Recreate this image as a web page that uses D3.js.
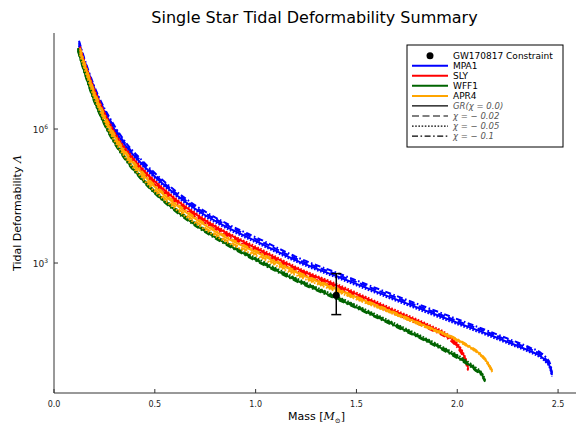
<!DOCTYPE html>
<head>
  <meta charset="utf-8">
  <script src="https://d3js.org/d3.v7.min.js"></script>
  <style>
    body { margin: 0; background: #fff; }
    text { font-family: "DejaVu Sans", sans-serif; }
  </style>
</head>
<body>
<svg width="576" height="426"></svg>
<script>
// masses (solar masses) and tidal deformability per EOS, one array per chi value
var mpa1Mass = [0.124, 0.144, 0.169, 0.198, 0.228, 0.278, 0.327, 0.377, 0.427, 0.476, 0.600, 0.724, 0.848, 1.022, 1.220, 1.399, 1.667, 1.964, 2.163, 2.262, 2.361, 2.411, 2.440, 2.460, 2.470];
var mpa1Gr   = [7.9e7, 3.9e7, 1.79e7, 7.9e6, 3.8e6, 1.44e6, 6.3e5, 3.2e5, 1.82e5, 1.09e5, 3.5e4, 1.39e4, 6.7e3, 2.8e3, 1.05e3, 512, 173, 53, 24.4, 16.2, 10.7, 8.3, 6.4, 4.7, 3.1];
var mpa1C002 = [8.7e7, 4.3e7, 1.97e7, 8.7e6, 4.2e6, 1.58e6, 6.9e5, 3.5e5, 2.0e5, 1.2e5, 3.85e4, 1.53e4, 7.4e3, 3.1e3, 1.15e3, 563, 190, 58, 26.8, 17.8, 11.8, 9.1, 7.0, 5.2, 3.4];
var mpa1C005 = [7.3e7, 3.6e7, 1.66e7, 7.3e6, 3.5e6, 1.34e6, 5.9e5, 3.0e5, 1.69e5, 1.01e5, 3.3e4, 1.29e4, 6.2e3, 2.6e3, 980, 476, 161, 49, 22.7, 15.1, 10.0, 7.7, 6.0, 4.4, 2.9];
var mpa1C01  = [9.5e7, 4.7e7, 2.15e7, 9.5e6, 4.6e6, 1.73e6, 7.6e5, 3.8e5, 2.2e5, 1.31e5, 4.2e4, 1.67e4, 8.0e3, 3.4e3, 1.26e3, 614, 208, 64, 29, 19.4, 12.8, 10, 7.7, 5.6, 3.7];

var slyMass = [0.129, 0.149, 0.174, 0.203, 0.233, 0.278, 0.327, 0.377, 0.427, 0.476, 0.600, 0.724, 0.848, 1.022, 1.220, 1.399, 1.667, 1.880, 1.940, 1.989, 2.024, 2.044, 2.054];
var slyGr   = [6.5e7, 3.3e7, 1.54e7, 6.7e6, 3.3e6, 1.23e6, 5.1e5, 2.6e5, 1.41e5, 8.4e4, 2.7e4, 1.07e4, 4.9e3, 1.95e3, 697, 321, 93, 35, 25.8, 17, 10.2, 6.4, 4.5];
var slyC002 = [6.0e7, 3.1e7, 1.43e7, 6.2e6, 3.1e6, 1.14e6, 4.7e5, 2.4e5, 1.31e5, 7.8e4, 2.5e4, 1.0e4, 4.6e3, 1.81e3, 648, 299, 86, 32.5, 24, 15.8, 9.5, 6.0, 4.2];
var slyC005 = [7.0e7, 3.5e7, 1.65e7, 7.2e6, 3.5e6, 1.32e6, 5.5e5, 2.8e5, 1.51e5, 9.0e4, 2.9e4, 1.14e4, 5.2e3, 2.1e3, 746, 343, 100, 37.5, 27.6, 18.2, 10.9, 6.8, 4.8];
var slyC01  = [5.7e7, 2.9e7, 1.34e7, 5.8e6, 2.9e6, 1.07e6, 4.4e5, 2.3e5, 1.23e5, 7.3e4, 2.35e4, 9.3e3, 4.3e3, 1.7e3, 606, 279, 81, 30.5, 22.4, 14.8, 8.9, 5.6, 3.9];

var wff1Mass = [0.119, 0.139, 0.164, 0.193, 0.223, 0.268, 0.317, 0.377, 0.427, 0.476, 0.600, 0.724, 0.848, 1.022, 1.220, 1.399, 1.667, 1.880, 1.964, 2.039, 2.088, 2.123, 2.138];
var wff1Gr   = [5.9e7, 2.85e7, 1.25e7, 5.2e6, 2.4e6, 9.0e5, 3.75e5, 1.56e5, 8.4e4, 4.8e4, 1.54e4, 6.1e3, 2.8e3, 1.05e3, 376, 165, 45, 15.4, 9.7, 6.1, 4.2, 3.1, 2.3];
var wff1C002 = [6.25e7, 3.0e7, 1.32e7, 5.5e6, 2.55e6, 9.5e5, 3.97e5, 1.65e5, 8.9e4, 5.1e4, 1.63e4, 6.5e3, 2.97e3, 1.11e3, 399, 175, 47.7, 16.3, 10.3, 6.5, 4.45, 3.3, 2.4];
var wff1C005 = [6.5e7, 3.16e7, 1.39e7, 5.8e6, 2.66e6, 1.0e6, 4.16e5, 1.73e5, 9.3e4, 5.3e4, 1.71e4, 6.8e3, 3.1e3, 1.17e3, 417, 183, 50, 17.1, 10.8, 6.8, 4.7, 3.4, 2.5];
var wff1C01  = [5.6e7, 2.7e7, 1.19e7, 4.9e6, 2.3e6, 8.6e5, 3.6e5, 1.48e5, 8.0e4, 4.6e4, 1.46e4, 5.8e3, 2.66e3, 1.0e3, 357, 157, 43, 14.7, 9.2, 5.8, 4.0, 2.9, 2.2];

var apr4Mass = [0.129, 0.149, 0.174, 0.203, 0.233, 0.278, 0.327, 0.377, 0.427, 0.476, 0.600, 0.724, 0.848, 1.022, 1.220, 1.399, 1.667, 1.880, 1.964, 2.063, 2.113, 2.148, 2.173];
var apr4Gr   = [5.9e7, 3.0e7, 1.38e7, 5.8e6, 2.8e6, 1.05e6, 4.4e5, 2.13e5, 1.15e5, 6.5e4, 2.1e4, 8.3e3, 3.8e3, 1.59e3, 568, 262, 84, 33, 23, 13.2, 9.2, 6.1, 3.8];
var apr4C002 = [5.2e7, 2.64e7, 1.21e7, 5.1e6, 2.46e6, 9.2e5, 3.9e5, 1.87e5, 1.01e5, 5.7e4, 1.85e4, 7.3e3, 3.35e3, 1.42e3, 515, 242, 79, 31.5, 22, 12.8, 8.9, 5.9, 3.7];
var apr4C005 = [4.6e7, 2.34e7, 1.08e7, 4.5e6, 2.2e6, 8.2e5, 3.45e5, 1.67e5, 9.0e4, 5.1e4, 1.66e4, 6.6e3, 3.05e3, 1.32e3, 485, 232, 77, 31, 21.8, 12.6, 8.8, 5.8, 3.6];
var apr4C01  = [6.5e7, 3.3e7, 1.5e7, 6.4e6, 3.1e6, 1.16e6, 4.8e5, 2.3e5, 1.26e5, 7.1e4, 2.3e4, 9.0e3, 4.1e3, 1.7e3, 600, 274, 87, 34, 23.7, 13.6, 9.5, 6.3, 4.0];

// GW170817 constraint at 1.4 Msun
var gwMass = 1.4, gwLambda = 190, gwLow = 70, gwHigh = 580;

var eosNames = ["MPA1", "SLY", "WFF1", "APR4"];
var eosColours = ["blue", "red", "darkgreen", "orange"];
var chiLabels = ["GR(χ = 0.0)", "χ = − 0.02", "χ = − 0.05", "χ = − 0.1"];
var xTicks = [0, 0.5, 1.0, 1.5, 2.0, 2.5];
var yTicks = [1e3, 1e6];

var eosMass = [mpa1Mass, slyMass, wff1Mass, apr4Mass];
var eosLam = [
  [mpa1Gr, mpa1C002, mpa1C005, mpa1C01],
  [slyGr, slyC002, slyC005, slyC01],
  [wff1Gr, wff1C002, wff1C005, wff1C01],
  [apr4Gr, apr4C002, apr4C005, apr4C01]
];
var dashes = [null, "7,3.5", "1.6,1.6", "6,2.5,1.6,2.5"];

var svg = d3.select("svg");
var pLeft = 54, pRight = 575, pTop = 33, pBottom = 393;

var x = d3.scaleLinear().domain([0, 2.584]).range([pLeft, pRight]);
var y = d3.scaleLog().domain([Math.pow(10, 0.09), Math.pow(10, 8.15)]).range([pBottom, pTop]);

svg.append("text")
    .attr("x", (pLeft + pRight) / 2).attr("y", 23)
    .attr("text-anchor", "middle")
    .attr("font-size", 16)
    .text("Single Star Tidal Deformability Summary");

var plot = svg.append("g");
var line = d3.line()
    .x(function(d) { return x(d[0]); })
    .y(function(d) { return y(d[1]); })
    .curve(d3.curveMonotoneX);

eosNames.forEach(function(name, i) {
  eosLam[i].forEach(function(lam, j) {
    var pts = eosMass[i].map(function(m, k) { return [m, lam[k]]; });
    plot.append("path")
        .attr("d", line(pts))
        .attr("fill", "none")
        .attr("stroke", eosColours[i])
        .attr("stroke-width", 2)
        .attr("stroke-dasharray", dashes[j]);
  });
});

// error bar
var gx = x(gwMass);
plot.append("line").attr("x1", gx).attr("x2", gx).attr("y1", y(gwLow)).attr("y2", y(gwHigh))
    .attr("stroke", "black").attr("stroke-width", 1.5);
[gwLow, gwHigh].forEach(function(v) {
  plot.append("line").attr("x1", gx - 5).attr("x2", gx + 5).attr("y1", y(v)).attr("y2", y(v))
      .attr("stroke", "black").attr("stroke-width", 1.5);
});
plot.append("circle").attr("cx", gx).attr("cy", y(gwLambda)).attr("r", 3.5).attr("fill", "black");

// axes
var axes = svg.append("g").attr("stroke", "#333").attr("stroke-width", 1);
axes.append("line").attr("x1", pLeft).attr("x2", pLeft).attr("y1", pTop).attr("y2", pBottom);
axes.append("line").attr("x1", pLeft).attr("x2", pRight + 1).attr("y1", pBottom).attr("y2", pBottom);

xTicks.forEach(function(t) {
  axes.append("line").attr("x1", x(t)).attr("x2", x(t)).attr("y1", pBottom).attr("y2", pBottom - 4);
  svg.append("text").attr("x", x(t)).attr("y", pBottom + 14)
      .attr("text-anchor", "middle").attr("font-size", 8).attr("fill", "#222")
      .text(d3.format(".1f")(t));
});
yTicks.forEach(function(t) {
  axes.append("line").attr("x1", pLeft).attr("x2", pLeft + 4).attr("y1", y(t)).attr("y2", y(t));
  var lab = svg.append("text").attr("x", pLeft - 6).attr("y", y(t) + 4)
      .attr("text-anchor", "end").attr("font-size", 9).attr("fill", "#222");
  lab.append("tspan").text("10");
  lab.append("tspan").attr("font-size", 6).attr("dy", -4).text(Math.round(Math.log10(t)));
});

var xl = svg.append("text").attr("x", (pLeft + pRight) / 2 + 2).attr("y", 420)
    .attr("text-anchor", "middle").attr("font-size", 11);
xl.append("tspan").text("Mass [");
xl.append("tspan").attr("font-family", "DejaVu Serif").attr("font-style", "italic").text("M");
xl.append("tspan").attr("font-family", "DejaVu Serif").attr("font-size", 7).attr("dy", 3).text("⊙");
xl.append("tspan").attr("dy", -3).text("]");

var yl = svg.append("text").attr("transform", "translate(21," + ((pTop + pBottom) / 2) + ") rotate(-90)")
    .attr("text-anchor", "middle").attr("font-size", 11);
yl.append("tspan").text("Tidal Deformability ");
yl.append("tspan").attr("font-family", "DejaVu Serif").attr("font-style", "italic").text("Λ");

// legend
var lg = svg.append("g");
lg.append("rect").attr("x", 407).attr("y", 45).attr("width", 156).attr("height", 102)
    .attr("fill", "white").attr("stroke", "black").attr("stroke-width", 1);
var rowY = function(i) { return 55.7 + i * 10.05; };
lg.append("circle").attr("cx", 430).attr("cy", rowY(0)).attr("r", 3.5).attr("fill", "black");
lg.append("text").attr("x", 453).attr("y", rowY(0) + 3.2).attr("font-size", 9).text("GW170817 Constraint");
eosNames.forEach(function(name, i) {
  lg.append("line").attr("x1", 412).attr("x2", 448).attr("y1", rowY(i + 1)).attr("y2", rowY(i + 1))
      .attr("stroke", eosColours[i]).attr("stroke-width", 2);
  lg.append("text").attr("x", 453).attr("y", rowY(i + 1) + 3.2).attr("font-size", 9).text(name);
});
chiLabels.forEach(function(name, j) {
  var ry = rowY(j + 5);
  lg.append("line").attr("x1", 412).attr("x2", 448).attr("y1", ry).attr("y2", ry)
      .attr("stroke", "black").attr("stroke-width", 1.2).attr("stroke-dasharray", dashes[j]);
  lg.append("text").attr("x", 453).attr("y", ry + 3).attr("font-size", 8.5)
      .attr("font-family", "DejaVu Serif").attr("font-style", "italic").attr("fill", "#555")
      .text(name);
});
</script>
</body>
